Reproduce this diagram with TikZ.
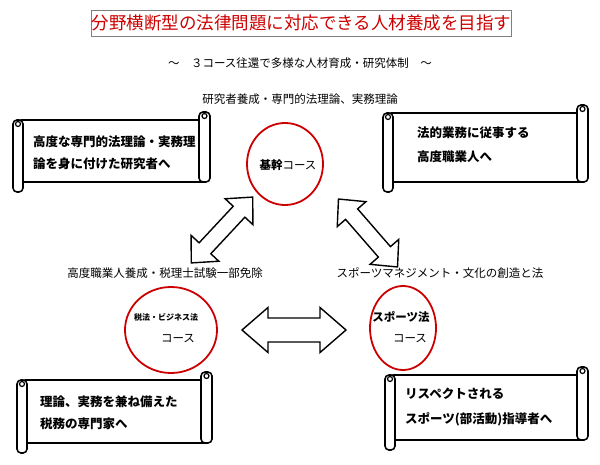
\documentclass[tikz,border=0pt]{standalone}
\usepackage{fontspec}
\setmainfont{Noto Sans CJK JP}
\usetikzlibrary{shapes.geometric}
\tikzset{
 crs/.style={draw=red!80!black,line width=1.8pt,ellipse,inner sep=0pt},
 lbl/.style={font=\fontsize{11.5}{13}\selectfont,inner sep=0pt},
 stxt/.style={font=\fontsize{12.5}{15}\selectfont\bfseries,anchor=west,inner sep=0pt},
 darr/.style={draw,line width=1.4pt,fill=white,line join=miter},
 scl/.style={line width=1.6pt,fill=white,line join=round}
}
\newcommand\myscroll[4]{%
 \draw[scl] (#1+8,#2+10) rectangle (#3-6,#4-10);
 \draw[scl,rounded corners=4pt] (#3-11,#2+2) rectangle (#3,#4-10);
 \draw[line width=1.2pt] (#3-5.5,#2+6) circle (2.5pt);
 \draw[scl,rounded corners=4pt] (#1,#2+10) rectangle (#1+10,#4);
 \draw[line width=1.2pt] (#1+5,#2+14) circle (2.5pt);
}
% cx cy angle halflen headlen headhalf shafthalf
\newcommand\dblarrow[7]{%
 \begin{scope}[shift={(#1,#2)},rotate=#3]
 \draw[darr] (-#4pt,0pt) -- (-#4pt+#5pt,#6pt) -- (-#4pt+#5pt,#7pt) -- (#4pt-#5pt,#7pt)
  -- (#4pt-#5pt,#6pt) -- (#4pt,0pt) -- (#4pt-#5pt,-#6pt) -- (#4pt-#5pt,-#7pt)
  -- (-#4pt+#5pt,-#7pt) -- (-#4pt+#5pt,-#6pt) -- cycle;
 \end{scope}}
\begin{document}
\begin{tikzpicture}[x=1pt,y=-1pt]
\useasboundingbox (0,0) rectangle (600,465);
\node[draw=gray,line width=0.8pt,text=red!80!black,font=\fontsize{17.5}{20}\selectfont,minimum width=407,minimum height=26,inner sep=0pt] (title) at (301.5,23) {分野横断型の法律問題に対応できる人材養成を目指す};
\node[lbl] (sub) at (300,63) {～\quad ３コース往還で多様な人材育成・研究体制\quad ～};
\node[lbl] (l1) at (300,99) {研究者養成・専門的法理論、実務理論};
\node[lbl] (l2) at (165,273) {高度職業人養成・税理士試験一部免除};
\node[lbl] (l3) at (440,273) {スポーツマネジメント・文化の創造と法};

\node[crs,minimum width=76,minimum height=82] (kc) at (285,164) {};
\node[lbl] (kct) at (288,165) {\textbf{基幹}コース};
\node[crs,minimum width=92,minimum height=86] (zc) at (171,330) {};
\node[lbl,font=\fontsize{8}{9}\selectfont\bfseries] (zct1) at (166,317) {税法・ビジネス法};
\node[lbl] (zct2) at (178,339) {コース};
\node[crs,minimum width=66,minimum height=84] (sc) at (403,328) {};
\node[lbl,font=\fontsize{11.5}{13}\selectfont\bfseries] (sct1) at (401,317) {スポーツ法};
\node[lbl] (sct2) at (410,339) {コース};

\dblarrow{294}{330}{0}{52}{26}{22.5}{12}
\dblarrow{222}{230}{47}{45}{20}{19}{8}
\dblarrow{368}{233}{-49}{45}{20}{19}{8}

\myscroll{13}{110}{210}{192}
\node[stxt] (t1a) at (33,142) {高度な専門的法理論・実務理};
\node[stxt] (t1b) at (33,164) {論を身に付けた研究者へ};
\myscroll{383}{103}{588}{192}
\node[stxt] (t2a) at (417,133) {法的業務に従事する};
\node[stxt] (t2b) at (417,157) {高度職業人へ};
\myscroll{17}{370}{212}{453}
\node[stxt] (t3a) at (40,402) {理論、実務を兼ね備えた};
\node[stxt] (t3b) at (40,424) {税務の専門家へ};
\myscroll{385}{365}{588}{450}
\node[stxt] (t4a) at (405,394) {リスペクトされる};
\node[stxt] (t4b) at (405,419) {スポーツ(部活動)指導者へ};
\end{tikzpicture}
\end{document}
